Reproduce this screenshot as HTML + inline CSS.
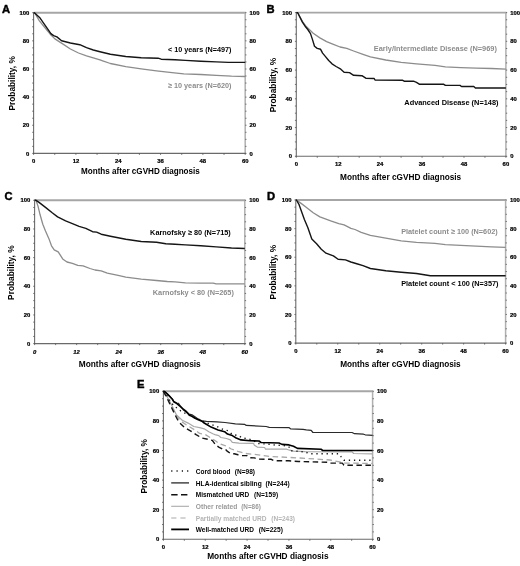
<!DOCTYPE html><html><head><meta charset="utf-8"><style>html,body{margin:0;padding:0;background:#fff;width:520px;height:566px;overflow:hidden}#w{width:520px;height:566px}svg{display:block;will-change:transform;font-family:"Liberation Sans",sans-serif}</style></head><body><div id="w">
<svg width="520" height="566" viewBox="0 0 520 566">
<rect width="520" height="566" fill="#fff"/>
<line x1="33.6" y1="12.7" x2="245.8" y2="12.7" stroke="#a6a6a6" stroke-width="1.9"/>
<line x1="245.2" y1="12.7" x2="245.2" y2="153.4" stroke="#b0b0b0" stroke-width="1.5"/>
<line x1="33.6" y1="12.2" x2="33.6" y2="153.9" stroke="#6a6a6a" stroke-width="1.1"/>
<line x1="33.1" y1="153.4" x2="245.7" y2="153.4" stroke="#6a6a6a" stroke-width="1.1"/>
<path d="M32.2 153.4H33.6 M245.2 153.4H246.5 M32.2 146.37H33.6 M245.2 146.37H246.5 M32.2 139.33H33.6 M245.2 139.33H246.5 M32.2 132.3H33.6 M245.2 132.3H246.5 M32.2 125.26H33.6 M245.2 125.26H246.5 M32.2 118.22H33.6 M245.2 118.22H246.5 M32.2 111.19H33.6 M245.2 111.19H246.5 M32.2 104.16H33.6 M245.2 104.16H246.5 M32.2 97.12H33.6 M245.2 97.12H246.5 M32.2 90.08H33.6 M245.2 90.08H246.5 M32.2 83.05H33.6 M245.2 83.05H246.5 M32.2 76.01H33.6 M245.2 76.01H246.5 M32.2 68.98H33.6 M245.2 68.98H246.5 M32.2 61.94H33.6 M245.2 61.94H246.5 M32.2 54.91H33.6 M245.2 54.91H246.5 M32.2 47.87H33.6 M245.2 47.87H246.5 M32.2 40.84H33.6 M245.2 40.84H246.5 M32.2 33.81H33.6 M245.2 33.81H246.5 M32.2 26.77H33.6 M245.2 26.77H246.5 M32.2 19.73H33.6 M245.2 19.73H246.5 M32.2 12.7H33.6 M245.2 12.7H246.5 M33.6 153.4V154.9 M54.76 153.4V154.9 M75.92 153.4V154.9 M97.08 153.4V154.9 M118.24 153.4V154.9 M139.4 153.4V154.9 M160.56 153.4V154.9 M181.72 153.4V154.9 M202.88 153.4V154.9 M224.04 153.4V154.9 M245.2 153.4V154.9" stroke="#555" stroke-width="0.8" fill="none"/>
<text x="29.4" y="155.55" font-size="5.9" text-anchor="end" fill="#000" font-weight="bold" stroke="#000" stroke-width="0.22">0</text>
<text x="249.6" y="155.55" font-size="5.9" text-anchor="start" fill="#000" font-weight="bold" stroke="#000" stroke-width="0.22">0</text>
<text x="29.4" y="127.41" font-size="5.9" text-anchor="end" fill="#000" font-weight="bold" stroke="#000" stroke-width="0.22">20</text>
<text x="249.6" y="127.41" font-size="5.9" text-anchor="start" fill="#000" font-weight="bold" stroke="#000" stroke-width="0.22">20</text>
<text x="29.4" y="99.27" font-size="5.9" text-anchor="end" fill="#000" font-weight="bold" stroke="#000" stroke-width="0.22">40</text>
<text x="249.6" y="99.27" font-size="5.9" text-anchor="start" fill="#000" font-weight="bold" stroke="#000" stroke-width="0.22">40</text>
<text x="29.4" y="71.13" font-size="5.9" text-anchor="end" fill="#000" font-weight="bold" stroke="#000" stroke-width="0.22">60</text>
<text x="249.6" y="71.13" font-size="5.9" text-anchor="start" fill="#000" font-weight="bold" stroke="#000" stroke-width="0.22">60</text>
<text x="29.4" y="42.99" font-size="5.9" text-anchor="end" fill="#000" font-weight="bold" stroke="#000" stroke-width="0.22">80</text>
<text x="249.6" y="42.99" font-size="5.9" text-anchor="start" fill="#000" font-weight="bold" stroke="#000" stroke-width="0.22">80</text>
<text x="29.4" y="14.85" font-size="5.9" text-anchor="end" fill="#000" font-weight="bold" stroke="#000" stroke-width="0.22">100</text>
<text x="249.6" y="14.85" font-size="5.9" text-anchor="start" fill="#000" font-weight="bold" stroke="#000" stroke-width="0.22">100</text>
<text x="33.6" y="163.3" font-size="5.9" text-anchor="middle" fill="#000" font-weight="bold" stroke="#000" stroke-width="0.22">0</text>
<text x="75.92" y="163.3" font-size="5.9" text-anchor="middle" fill="#000" font-weight="bold" stroke="#000" stroke-width="0.22">12</text>
<text x="118.24" y="163.3" font-size="5.9" text-anchor="middle" fill="#000" font-weight="bold" stroke="#000" stroke-width="0.22">24</text>
<text x="160.56" y="163.3" font-size="5.9" text-anchor="middle" fill="#000" font-weight="bold" stroke="#000" stroke-width="0.22">36</text>
<text x="202.88" y="163.3" font-size="5.9" text-anchor="middle" fill="#000" font-weight="bold" stroke="#000" stroke-width="0.22">48</text>
<text x="245.2" y="163.3" font-size="5.9" text-anchor="middle" fill="#000" font-weight="bold" stroke="#000" stroke-width="0.22">60</text>
<text x="81" y="174.2" font-size="8.25" text-anchor="start" fill="#000" font-weight="bold" textLength="118.8" lengthAdjust="spacingAndGlyphs">Months after cGVHD diagnosis</text>
<text transform="translate(14.7,83.35) rotate(-90)" x="0" y="0" font-size="8.3" text-anchor="middle" font-weight="bold" fill="#000" textLength="54.5" lengthAdjust="spacingAndGlyphs">Probability, %</text>
<text x="2.1" y="12.6" font-size="11.2" text-anchor="start" fill="#000" font-weight="bold" stroke="#000" stroke-width="0.45">A</text>
<line x1="296.3" y1="12.6" x2="506.5" y2="12.6" stroke="#a6a6a6" stroke-width="1.9"/>
<line x1="505.9" y1="12.6" x2="505.9" y2="156.3" stroke="#b0b0b0" stroke-width="1.5"/>
<line x1="296.3" y1="12.1" x2="296.3" y2="156.8" stroke="#6a6a6a" stroke-width="1.1"/>
<line x1="295.8" y1="156.3" x2="506.4" y2="156.3" stroke="#6a6a6a" stroke-width="1.1"/>
<path d="M294.9 156.3H296.3 M505.9 156.3H507.2 M294.9 149.12H296.3 M505.9 149.12H507.2 M294.9 141.93H296.3 M505.9 141.93H507.2 M294.9 134.75H296.3 M505.9 134.75H507.2 M294.9 127.56H296.3 M505.9 127.56H507.2 M294.9 120.38H296.3 M505.9 120.38H507.2 M294.9 113.19H296.3 M505.9 113.19H507.2 M294.9 106.01H296.3 M505.9 106.01H507.2 M294.9 98.82H296.3 M505.9 98.82H507.2 M294.9 91.64H296.3 M505.9 91.64H507.2 M294.9 84.45H296.3 M505.9 84.45H507.2 M294.9 77.27H296.3 M505.9 77.27H507.2 M294.9 70.08H296.3 M505.9 70.08H507.2 M294.9 62.9H296.3 M505.9 62.9H507.2 M294.9 55.71H296.3 M505.9 55.71H507.2 M294.9 48.52H296.3 M505.9 48.52H507.2 M294.9 41.34H296.3 M505.9 41.34H507.2 M294.9 34.16H296.3 M505.9 34.16H507.2 M294.9 26.97H296.3 M505.9 26.97H507.2 M294.9 19.78H296.3 M505.9 19.78H507.2 M294.9 12.6H296.3 M505.9 12.6H507.2 M296.3 156.3V157.8 M317.26 156.3V157.8 M338.22 156.3V157.8 M359.18 156.3V157.8 M380.14 156.3V157.8 M401.1 156.3V157.8 M422.06 156.3V157.8 M443.02 156.3V157.8 M463.98 156.3V157.8 M484.94 156.3V157.8 M505.9 156.3V157.8" stroke="#555" stroke-width="0.8" fill="none"/>
<text x="292.1" y="158.45" font-size="5.9" text-anchor="end" fill="#000" font-weight="bold" stroke="#000" stroke-width="0.22">0</text>
<text x="510.3" y="158.45" font-size="5.9" text-anchor="start" fill="#000" font-weight="bold" stroke="#000" stroke-width="0.22">0</text>
<text x="292.1" y="129.71" font-size="5.9" text-anchor="end" fill="#000" font-weight="bold" stroke="#000" stroke-width="0.22">20</text>
<text x="510.3" y="129.71" font-size="5.9" text-anchor="start" fill="#000" font-weight="bold" stroke="#000" stroke-width="0.22">20</text>
<text x="292.1" y="100.97" font-size="5.9" text-anchor="end" fill="#000" font-weight="bold" stroke="#000" stroke-width="0.22">40</text>
<text x="510.3" y="100.97" font-size="5.9" text-anchor="start" fill="#000" font-weight="bold" stroke="#000" stroke-width="0.22">40</text>
<text x="292.1" y="72.23" font-size="5.9" text-anchor="end" fill="#000" font-weight="bold" stroke="#000" stroke-width="0.22">60</text>
<text x="510.3" y="72.23" font-size="5.9" text-anchor="start" fill="#000" font-weight="bold" stroke="#000" stroke-width="0.22">60</text>
<text x="292.1" y="43.49" font-size="5.9" text-anchor="end" fill="#000" font-weight="bold" stroke="#000" stroke-width="0.22">80</text>
<text x="510.3" y="43.49" font-size="5.9" text-anchor="start" fill="#000" font-weight="bold" stroke="#000" stroke-width="0.22">80</text>
<text x="292.1" y="14.75" font-size="5.9" text-anchor="end" fill="#000" font-weight="bold" stroke="#000" stroke-width="0.22">100</text>
<text x="510.3" y="14.75" font-size="5.9" text-anchor="start" fill="#000" font-weight="bold" stroke="#000" stroke-width="0.22">100</text>
<text x="296.3" y="166.2" font-size="5.9" text-anchor="middle" fill="#000" font-weight="bold" stroke="#000" stroke-width="0.22">0</text>
<text x="338.22" y="166.2" font-size="5.9" text-anchor="middle" fill="#000" font-weight="bold" stroke="#000" stroke-width="0.22">12</text>
<text x="380.14" y="166.2" font-size="5.9" text-anchor="middle" fill="#000" font-weight="bold" stroke="#000" stroke-width="0.22">24</text>
<text x="422.06" y="166.2" font-size="5.9" text-anchor="middle" fill="#000" font-weight="bold" stroke="#000" stroke-width="0.22">36</text>
<text x="463.98" y="166.2" font-size="5.9" text-anchor="middle" fill="#000" font-weight="bold" stroke="#000" stroke-width="0.22">48</text>
<text x="505.9" y="166.2" font-size="5.9" text-anchor="middle" fill="#000" font-weight="bold" stroke="#000" stroke-width="0.22">60</text>
<text x="340.1" y="179.6" font-size="8.25" text-anchor="start" fill="#000" font-weight="bold" textLength="121.1" lengthAdjust="spacingAndGlyphs">Months after cGVHD diagnosis</text>
<text transform="translate(276.2,85.05) rotate(-90)" x="0" y="0" font-size="8.3" text-anchor="middle" font-weight="bold" fill="#000" textLength="54.5" lengthAdjust="spacingAndGlyphs">Probability, %</text>
<text x="266.4" y="12.6" font-size="11.2" text-anchor="start" fill="#000" font-weight="bold" stroke="#000" stroke-width="0.45">B</text>
<line x1="34.6" y1="200.3" x2="245.4" y2="200.3" stroke="#a6a6a6" stroke-width="1.9"/>
<line x1="244.8" y1="200.3" x2="244.8" y2="343.6" stroke="#b0b0b0" stroke-width="1.5"/>
<line x1="34.6" y1="199.8" x2="34.6" y2="344.1" stroke="#6a6a6a" stroke-width="1.1"/>
<line x1="34.1" y1="343.6" x2="245.3" y2="343.6" stroke="#6a6a6a" stroke-width="1.1"/>
<path d="M33.2 343.6H34.6 M244.8 343.6H246.1 M33.2 336.44H34.6 M244.8 336.44H246.1 M33.2 329.27H34.6 M244.8 329.27H246.1 M33.2 322.11H34.6 M244.8 322.11H246.1 M33.2 314.94H34.6 M244.8 314.94H246.1 M33.2 307.78H34.6 M244.8 307.78H246.1 M33.2 300.61H34.6 M244.8 300.61H246.1 M33.2 293.44H34.6 M244.8 293.44H246.1 M33.2 286.28H34.6 M244.8 286.28H246.1 M33.2 279.12H34.6 M244.8 279.12H246.1 M33.2 271.95H34.6 M244.8 271.95H246.1 M33.2 264.79H34.6 M244.8 264.79H246.1 M33.2 257.62H34.6 M244.8 257.62H246.1 M33.2 250.46H34.6 M244.8 250.46H246.1 M33.2 243.29H34.6 M244.8 243.29H246.1 M33.2 236.13H34.6 M244.8 236.13H246.1 M33.2 228.96H34.6 M244.8 228.96H246.1 M33.2 221.8H34.6 M244.8 221.8H246.1 M33.2 214.63H34.6 M244.8 214.63H246.1 M33.2 207.47H34.6 M244.8 207.47H246.1 M33.2 200.3H34.6 M244.8 200.3H246.1 M34.6 343.6V345.1 M55.62 343.6V345.1 M76.64 343.6V345.1 M97.66 343.6V345.1 M118.68 343.6V345.1 M139.7 343.6V345.1 M160.72 343.6V345.1 M181.74 343.6V345.1 M202.76 343.6V345.1 M223.78 343.6V345.1 M244.8 343.6V345.1" stroke="#555" stroke-width="0.8" fill="none"/>
<text x="30.4" y="345.75" font-size="5.9" text-anchor="end" fill="#000" font-weight="bold" stroke="#000" stroke-width="0.22">0</text>
<text x="249.2" y="345.75" font-size="5.9" text-anchor="start" fill="#000" font-weight="bold" stroke="#000" stroke-width="0.22">0</text>
<text x="30.4" y="317.09" font-size="5.9" text-anchor="end" fill="#000" font-weight="bold" stroke="#000" stroke-width="0.22">20</text>
<text x="249.2" y="317.09" font-size="5.9" text-anchor="start" fill="#000" font-weight="bold" stroke="#000" stroke-width="0.22">20</text>
<text x="30.4" y="288.43" font-size="5.9" text-anchor="end" fill="#000" font-weight="bold" stroke="#000" stroke-width="0.22">40</text>
<text x="249.2" y="288.43" font-size="5.9" text-anchor="start" fill="#000" font-weight="bold" stroke="#000" stroke-width="0.22">40</text>
<text x="30.4" y="259.77" font-size="5.9" text-anchor="end" fill="#000" font-weight="bold" stroke="#000" stroke-width="0.22">60</text>
<text x="249.2" y="259.77" font-size="5.9" text-anchor="start" fill="#000" font-weight="bold" stroke="#000" stroke-width="0.22">60</text>
<text x="30.4" y="231.11" font-size="5.9" text-anchor="end" fill="#000" font-weight="bold" stroke="#000" stroke-width="0.22">80</text>
<text x="249.2" y="231.11" font-size="5.9" text-anchor="start" fill="#000" font-weight="bold" stroke="#000" stroke-width="0.22">80</text>
<text x="30.4" y="202.45" font-size="5.9" text-anchor="end" fill="#000" font-weight="bold" stroke="#000" stroke-width="0.22">100</text>
<text x="249.2" y="202.45" font-size="5.9" text-anchor="start" fill="#000" font-weight="bold" stroke="#000" stroke-width="0.22">100</text>
<text x="34.6" y="353.5" font-size="5.9" text-anchor="middle" fill="#000" font-weight="bold" font-style="italic" stroke="#000" stroke-width="0.22">0</text>
<text x="76.64" y="353.5" font-size="5.9" text-anchor="middle" fill="#000" font-weight="bold" font-style="italic" stroke="#000" stroke-width="0.22">12</text>
<text x="118.68" y="353.5" font-size="5.9" text-anchor="middle" fill="#000" font-weight="bold" font-style="italic" stroke="#000" stroke-width="0.22">24</text>
<text x="160.72" y="353.5" font-size="5.9" text-anchor="middle" fill="#000" font-weight="bold" font-style="italic" stroke="#000" stroke-width="0.22">36</text>
<text x="202.76" y="353.5" font-size="5.9" text-anchor="middle" fill="#000" font-weight="bold" font-style="italic" stroke="#000" stroke-width="0.22">48</text>
<text x="244.8" y="353.5" font-size="5.9" text-anchor="middle" fill="#000" font-weight="bold" font-style="italic" stroke="#000" stroke-width="0.22">60</text>
<text x="78.8" y="366.9" font-size="8.25" text-anchor="start" fill="#000" font-weight="bold" textLength="121.9" lengthAdjust="spacingAndGlyphs">Months after cGVHD diagnosis</text>
<text transform="translate(14.1,272.65) rotate(-90)" x="0" y="0" font-size="8.3" text-anchor="middle" font-weight="bold" fill="#000" textLength="54.5" lengthAdjust="spacingAndGlyphs">Probability, %</text>
<text x="4.4" y="200" font-size="11.2" text-anchor="start" fill="#000" font-weight="bold" stroke="#000" stroke-width="0.45">C</text>
<line x1="295.8" y1="200" x2="506.2" y2="200" stroke="#a6a6a6" stroke-width="1.9"/>
<line x1="505.6" y1="200" x2="505.6" y2="343.1" stroke="#b0b0b0" stroke-width="1.5"/>
<line x1="295.8" y1="199.5" x2="295.8" y2="343.6" stroke="#6a6a6a" stroke-width="1.1"/>
<line x1="295.3" y1="343.1" x2="506.1" y2="343.1" stroke="#6a6a6a" stroke-width="1.1"/>
<path d="M294.4 343.1H295.8 M505.6 343.1H506.9 M294.4 335.95H295.8 M505.6 335.95H506.9 M294.4 328.79H295.8 M505.6 328.79H506.9 M294.4 321.63H295.8 M505.6 321.63H506.9 M294.4 314.48H295.8 M505.6 314.48H506.9 M294.4 307.33H295.8 M505.6 307.33H506.9 M294.4 300.17H295.8 M505.6 300.17H506.9 M294.4 293.01H295.8 M505.6 293.01H506.9 M294.4 285.86H295.8 M505.6 285.86H506.9 M294.4 278.71H295.8 M505.6 278.71H506.9 M294.4 271.55H295.8 M505.6 271.55H506.9 M294.4 264.39H295.8 M505.6 264.39H506.9 M294.4 257.24H295.8 M505.6 257.24H506.9 M294.4 250.09H295.8 M505.6 250.09H506.9 M294.4 242.93H295.8 M505.6 242.93H506.9 M294.4 235.78H295.8 M505.6 235.78H506.9 M294.4 228.62H295.8 M505.6 228.62H506.9 M294.4 221.47H295.8 M505.6 221.47H506.9 M294.4 214.31H295.8 M505.6 214.31H506.9 M294.4 207.16H295.8 M505.6 207.16H506.9 M294.4 200H295.8 M505.6 200H506.9 M295.8 343.1V344.6 M316.78 343.1V344.6 M337.76 343.1V344.6 M358.74 343.1V344.6 M379.72 343.1V344.6 M400.7 343.1V344.6 M421.68 343.1V344.6 M442.66 343.1V344.6 M463.64 343.1V344.6 M484.62 343.1V344.6 M505.6 343.1V344.6" stroke="#555" stroke-width="0.8" fill="none"/>
<text x="291.6" y="345.25" font-size="5.9" text-anchor="end" fill="#000" font-weight="bold" stroke="#000" stroke-width="0.22">0</text>
<text x="510" y="345.25" font-size="5.9" text-anchor="start" fill="#000" font-weight="bold" stroke="#000" stroke-width="0.22">0</text>
<text x="291.6" y="316.63" font-size="5.9" text-anchor="end" fill="#000" font-weight="bold" stroke="#000" stroke-width="0.22">20</text>
<text x="510" y="316.63" font-size="5.9" text-anchor="start" fill="#000" font-weight="bold" stroke="#000" stroke-width="0.22">20</text>
<text x="291.6" y="288.01" font-size="5.9" text-anchor="end" fill="#000" font-weight="bold" stroke="#000" stroke-width="0.22">40</text>
<text x="510" y="288.01" font-size="5.9" text-anchor="start" fill="#000" font-weight="bold" stroke="#000" stroke-width="0.22">40</text>
<text x="291.6" y="259.39" font-size="5.9" text-anchor="end" fill="#000" font-weight="bold" stroke="#000" stroke-width="0.22">60</text>
<text x="510" y="259.39" font-size="5.9" text-anchor="start" fill="#000" font-weight="bold" stroke="#000" stroke-width="0.22">60</text>
<text x="291.6" y="230.77" font-size="5.9" text-anchor="end" fill="#000" font-weight="bold" stroke="#000" stroke-width="0.22">80</text>
<text x="510" y="230.77" font-size="5.9" text-anchor="start" fill="#000" font-weight="bold" stroke="#000" stroke-width="0.22">80</text>
<text x="291.6" y="202.15" font-size="5.9" text-anchor="end" fill="#000" font-weight="bold" stroke="#000" stroke-width="0.22">100</text>
<text x="510" y="202.15" font-size="5.9" text-anchor="start" fill="#000" font-weight="bold" stroke="#000" stroke-width="0.22">100</text>
<text x="295.8" y="353" font-size="5.9" text-anchor="middle" fill="#000" font-weight="bold" stroke="#000" stroke-width="0.22">0</text>
<text x="337.76" y="353" font-size="5.9" text-anchor="middle" fill="#000" font-weight="bold" stroke="#000" stroke-width="0.22">12</text>
<text x="379.72" y="353" font-size="5.9" text-anchor="middle" fill="#000" font-weight="bold" stroke="#000" stroke-width="0.22">24</text>
<text x="421.68" y="353" font-size="5.9" text-anchor="middle" fill="#000" font-weight="bold" stroke="#000" stroke-width="0.22">36</text>
<text x="463.64" y="353" font-size="5.9" text-anchor="middle" fill="#000" font-weight="bold" stroke="#000" stroke-width="0.22">48</text>
<text x="505.6" y="353" font-size="5.9" text-anchor="middle" fill="#000" font-weight="bold" stroke="#000" stroke-width="0.22">60</text>
<text x="340.2" y="367" font-size="8.25" text-anchor="start" fill="#000" font-weight="bold" textLength="120.5" lengthAdjust="spacingAndGlyphs">Months after cGVHD diagnosis</text>
<text transform="translate(275.9,272.15) rotate(-90)" x="0" y="0" font-size="8.3" text-anchor="middle" font-weight="bold" fill="#000" textLength="54.5" lengthAdjust="spacingAndGlyphs">Probability, %</text>
<text x="267" y="199.7" font-size="11.2" text-anchor="start" fill="#000" font-weight="bold" stroke="#000" stroke-width="0.45">D</text>
<line x1="163.4" y1="391.3" x2="373.2" y2="391.3" stroke="#a6a6a6" stroke-width="1.9"/>
<line x1="372.6" y1="391.3" x2="372.6" y2="539.3" stroke="#b0b0b0" stroke-width="1.5"/>
<line x1="163.4" y1="390.8" x2="163.4" y2="539.8" stroke="#6a6a6a" stroke-width="1.1"/>
<line x1="162.9" y1="539.3" x2="373.1" y2="539.3" stroke="#6a6a6a" stroke-width="1.1"/>
<path d="M162 539.3H163.4 M372.6 539.3H373.9 M162 531.9H163.4 M372.6 531.9H373.9 M162 524.5H163.4 M372.6 524.5H373.9 M162 517.1H163.4 M372.6 517.1H373.9 M162 509.7H163.4 M372.6 509.7H373.9 M162 502.3H163.4 M372.6 502.3H373.9 M162 494.9H163.4 M372.6 494.9H373.9 M162 487.5H163.4 M372.6 487.5H373.9 M162 480.1H163.4 M372.6 480.1H373.9 M162 472.7H163.4 M372.6 472.7H373.9 M162 465.3H163.4 M372.6 465.3H373.9 M162 457.9H163.4 M372.6 457.9H373.9 M162 450.5H163.4 M372.6 450.5H373.9 M162 443.1H163.4 M372.6 443.1H373.9 M162 435.7H163.4 M372.6 435.7H373.9 M162 428.3H163.4 M372.6 428.3H373.9 M162 420.9H163.4 M372.6 420.9H373.9 M162 413.5H163.4 M372.6 413.5H373.9 M162 406.1H163.4 M372.6 406.1H373.9 M162 398.7H163.4 M372.6 398.7H373.9 M162 391.3H163.4 M372.6 391.3H373.9 M163.4 539.3V540.8 M184.32 539.3V540.8 M205.24 539.3V540.8 M226.16 539.3V540.8 M247.08 539.3V540.8 M268 539.3V540.8 M288.92 539.3V540.8 M309.84 539.3V540.8 M330.76 539.3V540.8 M351.68 539.3V540.8 M372.6 539.3V540.8" stroke="#555" stroke-width="0.8" fill="none"/>
<text x="159.2" y="541.45" font-size="5.9" text-anchor="end" fill="#000" font-weight="bold" stroke="#000" stroke-width="0.22">0</text>
<text x="377" y="541.45" font-size="5.9" text-anchor="start" fill="#000" font-weight="bold" stroke="#000" stroke-width="0.22">0</text>
<text x="159.2" y="511.85" font-size="5.9" text-anchor="end" fill="#000" font-weight="bold" stroke="#000" stroke-width="0.22">20</text>
<text x="377" y="511.85" font-size="5.9" text-anchor="start" fill="#000" font-weight="bold" stroke="#000" stroke-width="0.22">20</text>
<text x="159.2" y="482.25" font-size="5.9" text-anchor="end" fill="#000" font-weight="bold" stroke="#000" stroke-width="0.22">40</text>
<text x="377" y="482.25" font-size="5.9" text-anchor="start" fill="#000" font-weight="bold" stroke="#000" stroke-width="0.22">40</text>
<text x="159.2" y="452.65" font-size="5.9" text-anchor="end" fill="#000" font-weight="bold" stroke="#000" stroke-width="0.22">60</text>
<text x="377" y="452.65" font-size="5.9" text-anchor="start" fill="#000" font-weight="bold" stroke="#000" stroke-width="0.22">60</text>
<text x="159.2" y="423.05" font-size="5.9" text-anchor="end" fill="#000" font-weight="bold" stroke="#000" stroke-width="0.22">80</text>
<text x="377" y="423.05" font-size="5.9" text-anchor="start" fill="#000" font-weight="bold" stroke="#000" stroke-width="0.22">80</text>
<text x="159.2" y="393.45" font-size="5.9" text-anchor="end" fill="#000" font-weight="bold" stroke="#000" stroke-width="0.22">100</text>
<text x="377" y="393.45" font-size="5.9" text-anchor="start" fill="#000" font-weight="bold" stroke="#000" stroke-width="0.22">100</text>
<text x="163.4" y="549.2" font-size="5.9" text-anchor="middle" fill="#000" font-weight="bold" stroke="#000" stroke-width="0.22">0</text>
<text x="205.24" y="549.2" font-size="5.9" text-anchor="middle" fill="#000" font-weight="bold" stroke="#000" stroke-width="0.22">12</text>
<text x="247.08" y="549.2" font-size="5.9" text-anchor="middle" fill="#000" font-weight="bold" stroke="#000" stroke-width="0.22">24</text>
<text x="288.92" y="549.2" font-size="5.9" text-anchor="middle" fill="#000" font-weight="bold" stroke="#000" stroke-width="0.22">36</text>
<text x="330.76" y="549.2" font-size="5.9" text-anchor="middle" fill="#000" font-weight="bold" stroke="#000" stroke-width="0.22">48</text>
<text x="372.6" y="549.2" font-size="5.9" text-anchor="middle" fill="#000" font-weight="bold" stroke="#000" stroke-width="0.22">60</text>
<text x="207.2" y="558.6" font-size="8.25" text-anchor="start" fill="#000" font-weight="bold" textLength="121.3" lengthAdjust="spacingAndGlyphs">Months after cGVHD diagnosis</text>
<text transform="translate(146.9,466.3) rotate(-90)" x="0" y="0" font-size="8.3" text-anchor="middle" font-weight="bold" fill="#000" textLength="54.5" lengthAdjust="spacingAndGlyphs">Probability, %</text>
<text x="137" y="387.7" font-size="11.2" text-anchor="start" fill="#000" font-weight="bold" stroke="#000" stroke-width="0.45">E</text>
<polyline points="33.6,12.7 34.7,13 39.4,20.8 44.8,27.5 50.2,34.2 54.9,38.9 62.3,43.6 70.4,49 78.5,53 86.5,55.8 93.3,57.8 100,59.8 102.7,60.8 110.4,63.5 125.8,66.6 141.2,68.8 156.5,70.8 172,72.6 183.8,73.9 200.8,74.5 216.2,75.3 231.5,76.1 245.2,76.5" fill="none" stroke="#8c8c8c" stroke-width="1.3" stroke-linejoin="round"/>
<polyline points="33.6,12.7 34.7,13 40.1,18.1 44.8,24.8 50.9,33.6 53.6,35.6 56.9,36.9 61.6,40.7 70.4,43 79.8,44.7 86.5,47.7 93.3,50 100,51.7 110.4,54.2 125.8,56.5 141.2,57.7 158.1,58.2 161.2,59.2 175,59.7 185.4,60.4 200.8,61.2 216.2,61.9 228.5,62.4 245.2,62.4" fill="none" stroke="#151515" stroke-width="1.4" stroke-linejoin="round"/>
<polyline points="296.3,12.6 297.7,12.8 302.4,21.4 306.5,26.8 313.2,33.2 319.9,37.9 326.6,41.6 333.4,44.3 340.1,47 346.8,48.4 353.6,51 363,54.4 370.4,56.9 385.8,60 401.2,62.3 416.5,63.8 435,65.4 445.4,66.9 460.8,67.7 476.2,68.2 491.5,68.5 505.9,69.2" fill="none" stroke="#8c8c8c" stroke-width="1.3" stroke-linejoin="round"/>
<polyline points="296.3,12.6 297.7,12.8 302.4,22.1 305.1,26.2 307.8,29.5 310.5,33.6 312.5,39.6 314.5,46.3 317.2,48.4 320.6,49.3 322.6,53.1 325.3,56.4 328.7,60.5 332,63.8 336.1,66.5 340.8,69.2 344.1,72.2 349.5,72.6 353.6,75.3 361.9,75.7 365.8,78.2 374.2,78.5 375,80 402.7,80.3 404.2,81.2 413.5,81.2 416.5,82.3 419.6,84.3 443.8,84.3 445.4,85.4 460,85.4 461.5,86.5 473.8,86.5 475.4,88 505.9,88" fill="none" stroke="#151515" stroke-width="1.4" stroke-linejoin="round"/>
<polyline points="34.6,200.3 36,200.3 38,206.1 40.1,214.8 42.8,224.3 45.5,231 48.8,238.4 51.5,245.8 54.2,249.8 58.2,251.9 60.3,255.2 63,259.3 67,262 72.4,263.3 77.8,265.3 83.1,265.8 90,268.5 95,270 101.2,270.8 107.3,273.1 118.1,275.4 125.8,277.2 141.2,279.2 156.5,280.5 167.3,281.5 175,281.8 185.4,282.8 200.8,283.1 213.1,283.1 216.2,283.8 244.8,283.8" fill="none" stroke="#8c8c8c" stroke-width="1.3" stroke-linejoin="round"/>
<polyline points="34.6,200.3 36,200.3 38.7,202.1 45.5,207.4 52.2,212.8 57.6,216.9 65.6,220.9 72.4,223.6 79.1,226.3 85.8,228.3 92.6,231.7 96.6,232.1 101.2,234.2 110.4,236.2 125.8,239.2 141.2,241.5 156.5,242.3 165.8,243.8 175,244.3 185.4,244.9 200.8,245.8 216.2,246.9 231.5,248 244.8,248.5" fill="none" stroke="#151515" stroke-width="1.4" stroke-linejoin="round"/>
<polyline points="295.8,200 296.4,200 301.1,203.4 306.5,207.4 313.2,212.8 319.9,216.9 330.7,220.9 338.8,223.6 344.1,224.9 350.9,228.3 355,229.5 361.2,232.3 370.4,235.4 385.8,238.2 401.2,240.8 416.5,242.3 435,243.4 445.4,244.6 460.8,245.4 476.2,246.2 491.5,246.9 505.6,247.4" fill="none" stroke="#8c8c8c" stroke-width="1.3" stroke-linejoin="round"/>
<polyline points="295.8,200 296.4,200 299.1,204.7 301.7,212 304.4,219.5 307.8,227.5 311.8,239.1 316.6,243.8 321.3,249.2 326,253.2 333.4,255.9 338.1,259.3 345.5,259.9 350.9,262 357.6,264 363,265.6 370.4,268.5 385.8,270.8 401.2,272.3 416.5,273.5 427.3,275.2 430.4,275.7 505.6,275.7" fill="none" stroke="#151515" stroke-width="1.4" stroke-linejoin="round"/>
<polyline points="163.4,391.3 167,396.5 170.8,403.5 176.5,415 182.3,420.2 188.1,423.1 193.8,426.5 199.6,427.7 204.2,428.8 208.8,431.7 213.4,434 215,434.6 218.8,435.6 220.8,437.5 226.5,438.5 230.4,439.9 232.3,442.3 239,443.1 253.5,443.3 254.4,445.2 257.3,447.1 264.6,447.5 265.6,449.2 286.7,449.2 289.6,450.2 293.5,451.2 305,451.6 352,451.8 353.7,453.5 372.6,453.8" fill="none" stroke="#a8a8a8" stroke-width="1.2" stroke-linejoin="round"/>
<polyline points="163.4,391.3 167,397 171.9,406.3 174.2,411.5 177.7,417.3 181.1,421.3 188.1,426 195,430 199.6,433.4 205.4,434.6 211.1,438.1 215.7,441 218.8,443.3 223.7,445.2 226.5,446.2 231.3,449 238,451.4 244.8,453.4 253.5,454.3 262,455.3 270,456.5 281.5,457 300,458 330,460 345,463 372.6,463.5" fill="none" stroke="#a8a8a8" stroke-width="1.3" stroke-linejoin="round" stroke-dasharray="5.5,3.5"/>
<polyline points="163.4,391.3 167,398 172,408.5 177.3,419.2 180,423.1 184.6,427.5 190.4,430.8 196.1,434.6 201.9,438.1 207.7,439.2 212.3,440.4 215.7,445 219.2,447.3 222.7,449 225.6,449.5 227.5,451.4 230.4,453.4 234.2,453.8 238,454.8 241.9,455.6 246.7,455.6 249.6,457.7 254.4,457.9 257.3,459.1 271.3,459.3 274.2,460.8 288.7,460.8 294.4,461.3 298.3,461.5 327.6,462.3 329.2,463.1 342.3,463.1 343.9,465.2 372.6,465.2" fill="none" stroke="#151515" stroke-width="1.4" stroke-linejoin="round" stroke-dasharray="5.5,3.5"/>
<polyline points="163.4,391.3 166.5,395 169.2,399.5 173.8,406 177.7,408.4 180.8,411 184,412.7 190,415.5 198.5,419.2 208.5,423.5 212.3,424.8 217.7,426.9 223.7,429.8 228.5,430.8 232.3,434.6 239,435.6 241.9,438 246.7,438.5 253.5,440.4 256.9,443.5 266.2,444 276.2,445.2 284,445.6 289,447 290.6,450.7 298.3,451.3 305,452 310,453.8 339,453.8 341,456.6 343.9,460.3 372.6,460.3" fill="none" stroke="#151515" stroke-width="1.4" stroke-linejoin="round" stroke-dasharray="1.3,3.8"/>
<polyline points="163.4,391.3 164.6,391.5 167.7,394.2 170,396.5 172.3,398.8 173.8,401.5 176.9,403 178.5,403.4 180.8,406.5 183.1,408.8 186.2,411.1 189.2,414.2 192.3,414.9 194.6,416.5 197.7,418.8 201.9,420.8 206.5,421.3 216.9,421.9 225,422.5 235.4,423.8 244.6,424.3 246.2,425.4 266.2,426.5 269.2,427.4 289.2,427.7 290.8,428.9 303.1,429.3 306.3,429.9 311.2,430.4 312.9,432.5 352.1,432.5 354.5,433.7 363.5,434.2 365.2,434.8 372.6,435.3" fill="none" stroke="#2a2a2a" stroke-width="1.2" stroke-linejoin="round"/>
<polyline points="163.4,391.3 164.6,391.5 167.7,394.4 170,396.8 172.3,399.2 173.8,401.8 176.9,403.6 180.8,407 183.1,409.3 186.2,411.8 189.2,415 192.3,416.5 194.6,418 197.7,419.5 201.9,421.2 204.2,423 211.1,427.1 218.1,430 224.6,431.7 227.5,434.1 232.3,435.6 236.2,438 241,439.9 250,440.7 259,441 261,442.5 279,443 282,444.4 289,444.9 293.5,446.3 297.4,448.4 321,449.2 322.7,450.5 372.6,450.5" fill="none" stroke="#000" stroke-width="1.6" stroke-linejoin="round"/>
<text x="168" y="51.7" font-size="7.35" text-anchor="start" fill="#000" font-weight="bold" textLength="63.5" lengthAdjust="spacingAndGlyphs">&lt; 10 years (N=497)</text>
<text x="168" y="88.3" font-size="7.35" text-anchor="start" fill="#8c8c8c" font-weight="bold" textLength="63.5" lengthAdjust="spacingAndGlyphs">≥ 10 years (N=620)</text>
<text x="373.8" y="50.5" font-size="7.35" text-anchor="start" fill="#8c8c8c" font-weight="bold" textLength="123.1" lengthAdjust="spacingAndGlyphs">Early/Intermediate Disease (N=969)</text>
<text x="404.3" y="104.6" font-size="7.35" text-anchor="start" fill="#000" font-weight="bold" textLength="94.2" lengthAdjust="spacingAndGlyphs">Advanced Disease (N=148)</text>
<text x="150.1" y="234.9" font-size="7.35" text-anchor="start" fill="#000" font-weight="bold" textLength="80.7" lengthAdjust="spacingAndGlyphs">Karnofsky ≥ 80 (N=715)</text>
<text x="152.8" y="294.9" font-size="7.35" text-anchor="start" fill="#8c8c8c" font-weight="bold" textLength="81.1" lengthAdjust="spacingAndGlyphs">Karnofsky &lt; 80 (N=265)</text>
<text x="401.2" y="234" font-size="7.35" text-anchor="start" fill="#8c8c8c" font-weight="bold" textLength="96.5" lengthAdjust="spacingAndGlyphs">Platelet count ≥ 100 (N=602)</text>
<text x="401.2" y="286" font-size="7.35" text-anchor="start" fill="#000" font-weight="bold" textLength="97.3" lengthAdjust="spacingAndGlyphs">Platelet count &lt; 100 (N=357)</text>
<line x1="171.2" y1="471.0" x2="189.0" y2="471.0" stroke="#111" stroke-width="1.3" stroke-dasharray="1.2,4.1"/>
<line x1="171.2" y1="482.9" x2="189.0" y2="482.9" stroke="#2a2a2a" stroke-width="1.3"/>
<line x1="171.2" y1="494.8" x2="189.0" y2="494.8" stroke="#111" stroke-width="1.5" stroke-dasharray="6.4,3.4"/>
<line x1="171.2" y1="506.3" x2="189.0" y2="506.3" stroke="#aaa" stroke-width="1.1"/>
<line x1="171.2" y1="518.0" x2="189.0" y2="518.0" stroke="#aaa" stroke-width="1.2" stroke-dasharray="5.2,4"/>
<line x1="171.2" y1="529.4" x2="189.0" y2="529.4" stroke="#000" stroke-width="1.8"/>
<text x="195.8" y="473.6" font-size="6.55" text-anchor="start" fill="#000" font-weight="bold" textLength="34.6" lengthAdjust="spacingAndGlyphs">Cord blood</text>
<text x="234.7" y="473.6" font-size="6.55" text-anchor="start" fill="#000" font-weight="bold" textLength="20.3" lengthAdjust="spacingAndGlyphs">(N=98)</text>
<text x="195.8" y="485.5" font-size="6.55" text-anchor="start" fill="#000" font-weight="bold" textLength="65.9" lengthAdjust="spacingAndGlyphs">HLA-identical sibling</text>
<text x="265.6" y="485.5" font-size="6.55" text-anchor="start" fill="#000" font-weight="bold" textLength="24" lengthAdjust="spacingAndGlyphs">(N=244)</text>
<text x="195.8" y="497.4" font-size="6.55" text-anchor="start" fill="#000" font-weight="bold" textLength="53.4" lengthAdjust="spacingAndGlyphs">Mismatched URD</text>
<text x="254" y="497.4" font-size="6.55" text-anchor="start" fill="#000" font-weight="bold" textLength="24.1" lengthAdjust="spacingAndGlyphs">(N=159)</text>
<text x="195.8" y="508.9" font-size="6.55" text-anchor="start" fill="#9a9a9a" font-weight="bold" textLength="41.5" lengthAdjust="spacingAndGlyphs">Other related</text>
<text x="241.2" y="508.9" font-size="6.55" text-anchor="start" fill="#9a9a9a" font-weight="bold" textLength="19.6" lengthAdjust="spacingAndGlyphs">(N=86)</text>
<text x="195.8" y="520.6" font-size="6.55" text-anchor="start" fill="#b4b4b4" font-weight="bold" textLength="70.7" lengthAdjust="spacingAndGlyphs">Partially matched URD</text>
<text x="271.3" y="520.6" font-size="6.55" text-anchor="start" fill="#b4b4b4" font-weight="bold" textLength="23.7" lengthAdjust="spacingAndGlyphs">(N=243)</text>
<text x="195.8" y="532" font-size="6.55" text-anchor="start" fill="#000" font-weight="bold" textLength="58.2" lengthAdjust="spacingAndGlyphs">Well-matched URD</text>
<text x="258.8" y="532" font-size="6.55" text-anchor="start" fill="#000" font-weight="bold" textLength="24.1" lengthAdjust="spacingAndGlyphs">(N=225)</text>
</svg></div></body></html>
